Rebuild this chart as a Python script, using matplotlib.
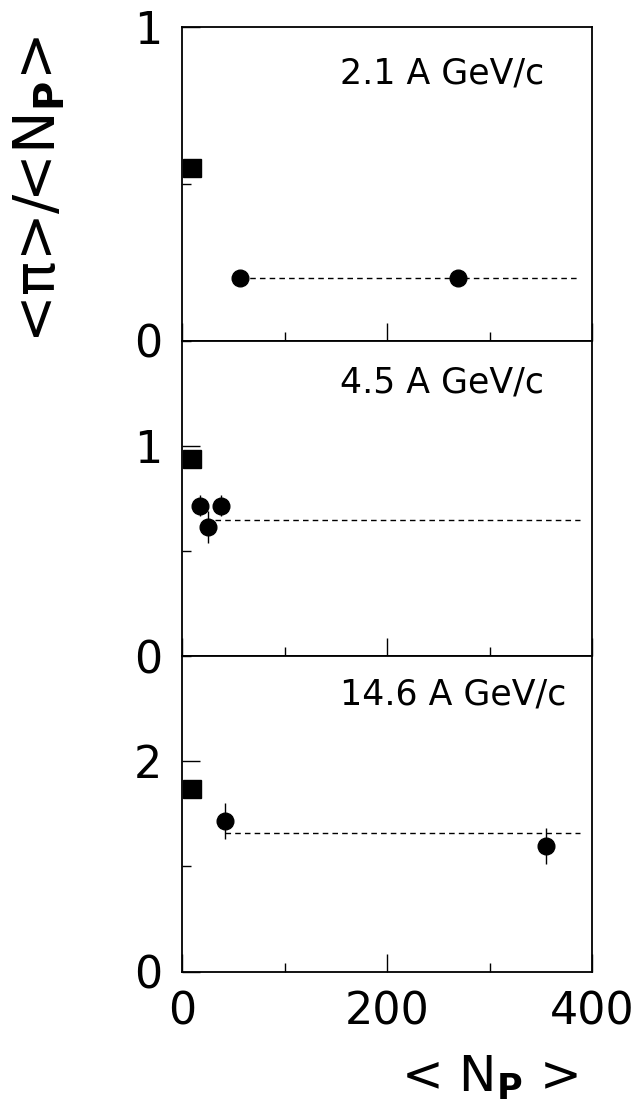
'''
Pion multiplicity per participant vs <N_P> at three beam momenta
'''
import matplotlib
matplotlib.use('Agg')
import matplotlib.pyplot as plt

# Beam momenta (panel labels)
energies = ['2.1 A GeV/c', '4.5 A GeV/c', '14.6 A GeV/c']

# Nucleon-nucleon reference points (squares)
nn_x = [10, 10, 10]
nn_y = [0.55, 0.94, 1.74]

# Nucleus-nucleus points (circles) per panel
aa_x = [[57, 269], [18, 25, 38], [42, 355]]
aa_y = [[0.20, 0.20], [0.716, 0.613, 0.716], [1.43, 1.19]]
aa_err = [[0.0, 0.0], [0.05, 0.077, 0.05], [0.17, 0.17]]

# Average level (dashed line) per panel
fit_level = [0.20, 0.649, 1.32]
fit_start = [57, 32, 42]
fit_end = 388

# Axis settings per panel
y_max = [1.0, 1.5, 3.0]
y_major = [[0, 1], [0, 1], [0, 2]]
y_minor = [[0.5], [0.5, 1.5], [1, 3]]

plt.rcParams['font.family'] = 'DejaVu Sans'

fig = plt.figure(figsize=(6.44, 11.12), dpi=100)

left, width = 182 / 644, 410 / 644
bottoms = [341, 656, 971.5]
tops = [27, 341, 656]

for i in range(3):
    ax = fig.add_axes([left, 1 - bottoms[i] / 1112, width, (bottoms[i] - tops[i]) / 1112])

    ax.plot(nn_x[i], nn_y[i], 's', color='black', markersize=12.5)
    ax.errorbar(aa_x[i], aa_y[i], yerr=aa_err[i], fmt='o', color='black',
                markersize=12, elinewidth=1.0, capsize=0)
    ax.plot([fit_start[i], fit_end], [fit_level[i], fit_level[i]],
            color='black', linewidth=1.0, linestyle=(0, (4, 3)))

    ax.set_xticks([0, 200, 400])
    ax.set_xticks([100, 300], minor=True)
    ax.set_yticks(y_major[i])
    ax.set_yticks(y_minor[i], minor=True)
    ax.set_xlim(0, 400)
    ax.set_ylim(0, y_max[i])

    ax.tick_params(which='both', direction='in', top=False, right=False,
                   width=1.0, labelsize=32)
    ax.tick_params(which='major', length=13)
    ax.tick_params(which='minor', length=6.5)
    ax.tick_params(axis='y', pad=14)
    ax.tick_params(axis='x', pad=14)
    if i < 2:
        ax.set_xticklabels([])

    for spine in ax.spines.values():
        spine.set_linewidth(1.3)

    ax.text(0.385, [0.853, 0.867, 0.878][i], energies[i], transform=ax.transAxes,
            fontsize=25, ha='left', va='center')

fig.text(40 / 644, 1 - 190 / 1112, '<π>/<N$_\\mathbf{P}$>', rotation=90,
         fontsize=41, ha='center', va='center')
fig.text(490 / 644, 1 - 1078 / 1112, '< N$_\\mathbf{P}$ >',
         fontsize=36, ha='center', va='center')

fig.savefig('out.png', dpi=100)
